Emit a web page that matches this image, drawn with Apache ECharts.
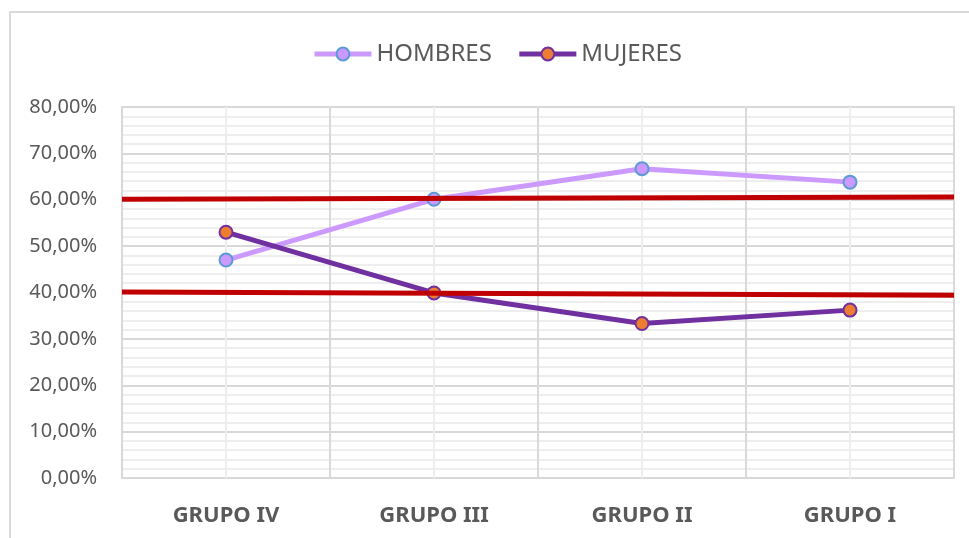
<!DOCTYPE html>
<html lang="es">
<head>
<meta charset="UTF-8">
<title>Hombres y mujeres por grupo</title>
<script src="https://cdn.jsdelivr.net/npm/echarts@6/dist/echarts.min.js"></script>
<style>
  html, body { margin: 0; padding: 0; background: #fff; }
  #main { width: 969px; height: 538px; }
</style>
</head>
<body>
<div id="main"></div>
<script>
// datos del gráfico (porcentajes)
var grupos = ['GRUPO IV', 'GRUPO III', 'GRUPO II', 'GRUPO I'];
var hombres = [47.0, 60.1, 66.7, 63.8];
var mujeres = [53.0, 39.9, 33.3, 36.2];
// líneas rojas de referencia: valor en el borde izquierdo y en el derecho
var refAlta = [60.1, 60.6];
var refBaja = [40.1, 39.4];
var yTicks = [0, 10, 20, 30, 40, 50, 60, 70, 80];

var chart = echarts.init(document.getElementById('main'));

function refSerie(vals) {
  return {
    type: 'line',
    xAxisIndex: 1,
    data: [[0, vals[0]], [4, vals[1]]],
    symbol: 'none',
    silent: true,
    z: 5,
    lineStyle: { color: '#c00000', width: 5 }
  };
}

var option = {
  backgroundColor: '#ffffff',
  animation: false,
  textStyle: { fontFamily: 'Noto Sans' },
  graphic: [{
    type: 'rect',
    shape: { x: 10, y: 12, width: 1000, height: 600 },
    style: { fill: 'none', stroke: '#d9d9d9', lineWidth: 2 },
    silent: true
  }],
  legend: {
    left: 312,
    top: 42,
    padding: 0,
    itemWidth: 57,
    itemHeight: 16,
    itemGap: 25,
    data: ['HOMBRES', 'MUJERES'],
    lineStyle: { width: 5 },
    textStyle: { color: '#595959', fontSize: 24, fontFamily: 'Noto Sans' }
  },
  grid: {
    left: 122, top: 107, width: 832, height: 371,
    show: true, borderColor: '#d9d9d9', borderWidth: 2
  },
  xAxis: [{
    type: 'category',
    data: grupos,
    boundaryGap: true,
    axisLine: { show: false },
    axisTick: { show: false },
    splitLine: { show: false },
    axisLabel: { color: '#595959', fontSize: 22, fontWeight: 'bold', margin: 27 }
  }, {
    type: 'value',
    min: 0, max: 4, interval: 0.5,
    show: true,
    axisLine: { show: false },
    axisTick: { show: false },
    axisLabel: { show: false },
    splitLine: { show: true, lineStyle: { color: ['#d9d9d9', '#eeeeee'], width: 2 } }
  }],
  yAxis: {
    type: 'value',
    min: yTicks[0],
    max: yTicks[yTicks.length - 1],
    interval: 10,
    axisLine: { show: false },
    axisTick: { show: false },
    axisLabel: {
      color: '#595959', fontSize: 20, margin: 25,
      formatter: function (v) { return v.toFixed(2).replace('.', ',') + '%'; }
    },
    splitLine: { lineStyle: { color: '#d9d9d9', width: 2 } },
    minorTick: { show: false, splitNumber: 5 },
    minorSplitLine: { show: true, lineStyle: { color: '#eeeeee', width: 2 } }
  },
  series: [{
    name: 'HOMBRES',
    type: 'line',
    data: hombres,
    symbol: 'circle',
    symbolSize: 13,
    z: 3,
    color: '#cc99ff',
    lineStyle: { color: '#cc99ff', width: 5 },
    itemStyle: { color: '#cc99ff', borderColor: '#5b9bd5', borderWidth: 2 }
  }, {
    name: 'MUJERES',
    type: 'line',
    data: mujeres,
    symbol: 'circle',
    symbolSize: 13,
    z: 3,
    color: '#7030a0',
    lineStyle: { color: '#7030a0', width: 5 },
    itemStyle: { color: '#ed7d31', borderColor: '#7030a0', borderWidth: 2 }
  },
  refSerie(refAlta),
  refSerie(refBaja)]
};

chart.setOption(option);
</script>
</body>
</html>
